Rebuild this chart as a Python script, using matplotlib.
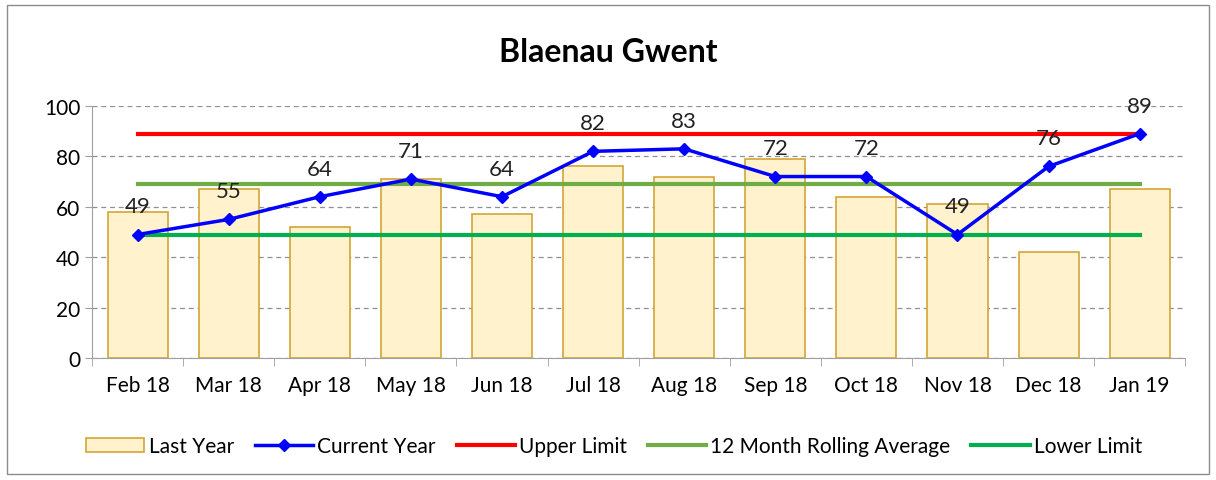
import numpy as np
import matplotlib.pyplot as plt
from matplotlib.patches import Rectangle

plt.rcParams['font.family'] = ['Lato', 'DejaVu Sans']

months = ["Feb 18", "Mar 18", "Apr 18", "May 18", "Jun 18", "Jul 18",
          "Aug 18", "Sep 18", "Oct 18", "Nov 18", "Dec 18", "Jan 19"]
last_year = [58, 67, 52, 71, 57, 76, 72, 79, 64, 61, 42, 67]
current_year = [49, 55, 64, 71, 64, 82, 83, 72, 72, 49, 76, 89]
upper_limit = 89
rolling_avg = 69
lower_limit = 49

x = np.arange(len(months))

fig = plt.figure(figsize=(12.16, 4.81), dpi=100)
ax = fig.add_axes([0.0757, 0.2536, 0.899, 0.524])

b = ax.bar(x, last_year, width=0.66, color="#FFF2CC", edgecolor="#D4A537",
           linewidth=1.2, label="Last Year", zorder=2)
l1, = ax.plot(x, current_year, color="#0000FF", linewidth=2.5, marker="D",
              markersize=6, label="Current Year", zorder=5)
l2, = ax.plot(x, [upper_limit] * len(x), color="#FF0000", linewidth=3,
              label="Upper Limit", zorder=4)
l3, = ax.plot(x, [rolling_avg] * len(x), color="#70AD47", linewidth=3,
              label="12 Month Rolling Average", zorder=4)
l4, = ax.plot(x, [lower_limit] * len(x), color="#00B050", linewidth=3,
              label="Lower Limit", zorder=4)

for xi, v in zip(x, current_year):
    ax.annotate(str(v), (xi, v), xytext=(0, 13), textcoords="offset points",
                ha="center", va="bottom", fontsize=16, color="#222222", zorder=6)

ax.set_xlim(-0.5, len(x) - 0.5)
ax.set_ylim(0, 100)
ax.set_yticks(range(0, 101, 20))
ax.set_xticks(x)
ax.set_xticklabels(months)
ax.set_xticks(np.arange(-0.5, len(x), 1), minor=True)
ax.tick_params(axis="x", which="major", length=0, labelsize=15, pad=12)
ax.tick_params(axis="x", which="minor", length=6, color="#A0A0A0")
ax.tick_params(axis="y", labelsize=15, length=5, color="#A0A0A0")
ax.grid(axis="y", linestyle=(0, (4, 3)), color="#909090", linewidth=0.9, zorder=0)
ax.set_axisbelow(True)
for s in ["top", "right"]:
    ax.spines[s].set_visible(False)
for s in ["left", "bottom"]:
    ax.spines[s].set_color("#A0A0A0")

fig.text(0.5, 0.89, "Blaenau Gwent", ha="center", va="center",
         fontsize=23, fontweight="bold")

fig.legend([b, l1, l2, l3, l4],
           ["Last Year", "Current Year", "Upper Limit",
            "12 Month Rolling Average", "Lower Limit"],
           loc="center", bbox_to_anchor=(0.505, 0.07), ncol=5, frameon=False,
           fontsize=15, handlelength=2.8, handletextpad=0.2, columnspacing=1.0)

fig.patches.append(Rectangle((0.006, 0.012), 0.988, 0.975, transform=fig.transFigure,
                             fill=False, edgecolor="#8C8C8C", linewidth=1))

fig.savefig("out.png", dpi=100)
